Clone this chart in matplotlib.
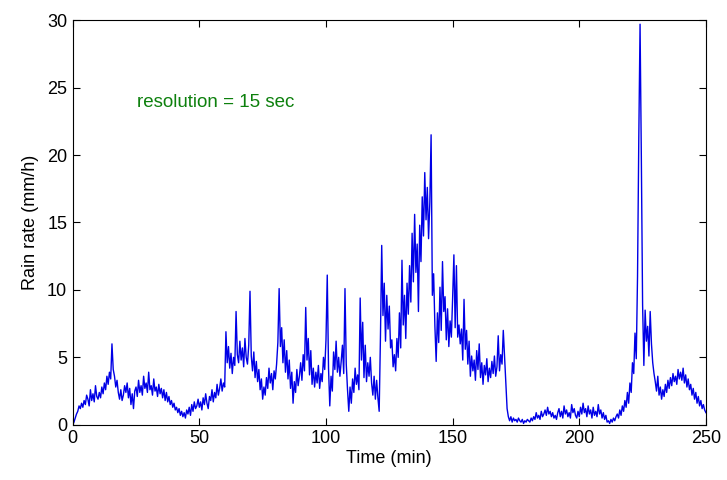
import numpy as np
import matplotlib
matplotlib.use("Agg")
import matplotlib.pyplot as plt

# rain rate, one value every 0.5 min (0 .. 250 min)
rain_rate = [
    0.0, 0.2, 0.5, 0.8, 1.0, 1.4, 1.2, 1.6, 1.3, 1.8, 1.5, 2.2, 1.9, 1.4, 2.6, 1.8, 2.3, 1.7, 2.9, 2.1,
    1.9, 2.4, 2.0, 2.8, 2.3, 3.1, 2.6, 3.6, 3.0, 3.9, 3.4, 6.0, 4.1, 3.6, 2.8, 3.3, 2.4, 1.9, 2.6, 1.8,
    2.2, 2.9, 2.4, 3.1, 2.0, 2.7, 1.5, 2.3, 1.2, 2.5, 2.8, 2.1, 3.3, 2.4, 2.9, 2.2, 3.6, 2.7, 3.1, 2.4,
    3.9, 2.6, 2.9, 2.2, 3.4, 2.5, 2.8, 2.1, 3.0, 2.3, 2.7, 2.0, 2.6, 1.8, 2.4, 1.7, 2.1, 1.5, 1.8, 1.3,
    1.6, 1.1, 1.3, 0.9, 1.2, 0.7, 1.0, 0.6, 0.9, 0.5, 1.1, 0.8, 1.3, 0.7, 1.5, 1.0, 1.7, 1.2, 1.4, 1.9,
    1.3, 1.7, 1.1, 2.0, 1.5, 2.3, 1.6, 1.2, 2.1, 1.8, 2.6, 1.7, 2.4, 2.0, 3.0, 2.2, 2.7, 3.4, 2.5, 3.1,
    2.8, 6.9, 4.6, 5.8, 4.2, 5.3, 3.8, 5.0, 4.4, 8.4, 5.2, 4.6, 6.2, 4.8, 5.7, 4.3, 6.4, 5.0, 4.5, 5.9,
    9.9, 5.1, 4.0, 5.4, 3.5, 4.7, 3.2, 4.1, 2.6, 3.4, 1.9, 2.8, 2.2, 3.5, 2.7, 4.2, 3.1, 3.8, 2.6, 4.0,
    3.4, 4.5, 6.1, 10.1, 5.8, 7.2, 4.6, 6.3, 3.9, 5.5, 3.4, 4.8, 2.7, 3.9, 1.6, 3.2, 2.4, 4.1, 2.9, 3.6,
    4.6, 3.3, 5.2, 4.0, 8.7, 4.8, 6.4, 3.7, 5.5, 3.0, 4.2, 2.8, 3.9, 3.1, 4.4, 2.7, 3.8, 3.2, 5.0, 4.1,
    6.3, 11.1, 4.2, 1.4, 3.6, 2.5, 5.4, 4.1, 6.2, 3.9, 5.0, 3.6, 4.7, 5.9, 3.8, 10.1, 4.5, 2.6, 1.0, 2.8,
    1.6, 3.4, 2.4, 4.2, 3.0, 3.7, 2.6, 9.4, 4.8, 7.6, 3.5, 5.9, 3.2, 4.6, 3.6, 5.0, 3.1, 2.2, 3.6, 1.9,
    3.3, 2.0, 1.0, 6.5, 13.3, 8.1, 10.5, 6.2, 9.6, 7.1, 8.8, 5.7, 6.3, 4.3, 5.2, 4.0, 6.4, 5.0, 8.3, 5.7,
    12.2, 7.4, 9.6, 6.4, 10.5, 8.2, 11.8, 9.1, 14.2, 10.6, 15.6, 11.3, 13.4, 8.4, 14.8, 12.1, 16.9, 14.0, 18.7, 15.2,
    17.6, 13.8, 16.5, 21.5, 9.6, 11.2, 7.3, 4.7, 8.3, 6.1, 10.2, 7.0, 12.1, 8.4, 9.5, 6.3, 8.6, 5.8, 7.7, 6.5,
    9.4, 12.6, 7.2, 11.8, 6.5, 7.4, 6.0, 7.1, 4.8, 9.3, 5.6, 7.0, 4.5, 6.2, 3.6, 5.1, 4.0, 4.8, 3.3, 5.5,
    4.1, 6.0, 3.5, 4.6, 3.0, 4.4, 3.7, 4.9, 3.2, 4.2, 3.5, 4.7, 3.8, 5.1, 3.6, 4.3, 6.6, 4.0, 5.2, 4.5,
    7.0, 5.1, 3.2, 1.2, 0.6, 0.3, 0.6, 0.2, 0.5, 0.3, 0.4, 0.2, 0.5, 0.3, 0.2, 0.4, 0.1, 0.3, 0.2, 0.4,
    0.3, 0.2, 0.5, 0.3, 0.6, 0.4, 0.9, 0.5, 0.7, 0.4, 1.0, 0.6, 0.8, 1.1, 0.7, 1.3, 0.8, 1.0, 0.6, 0.9,
    0.5, 0.7, 0.4, 0.9, 1.2, 0.6, 1.0, 0.5, 1.4, 0.8, 1.1, 0.6, 0.9, 0.5, 1.5, 0.9, 1.2, 0.7, 0.5, 1.0,
    0.6, 1.3, 0.8, 1.6, 0.9, 1.2, 0.6, 1.4, 0.8, 1.1, 0.5, 1.3, 0.7, 1.0, 0.6, 1.5, 0.8, 1.1, 0.5, 0.9,
    0.4, 0.7, 0.2, 0.3, 0.1, 0.4, 0.2, 0.5, 0.3, 0.6, 0.8, 0.5, 1.1, 0.7, 1.4, 1.0, 1.8, 1.3, 2.4, 1.6,
    3.1, 2.4, 4.6, 3.8, 6.8, 4.9, 11.0, 21.3, 29.7, 19.9, 8.9, 4.4, 8.5, 6.2, 7.3, 5.1, 8.4, 6.0, 4.6, 3.8,
    3.2, 2.5, 3.6, 2.2, 2.8, 1.9, 2.6, 2.1, 3.0, 2.4, 3.3, 2.7, 3.5, 2.9, 3.8, 3.2, 3.6, 3.0, 4.1, 3.4,
    3.9, 3.3, 4.2, 3.1, 3.7, 2.8, 3.4, 2.6, 3.0, 2.2, 2.7, 1.9, 2.4, 1.6, 2.1, 1.4, 1.8, 1.2, 1.5, 1.1,
    0.9,
]
time_min = np.arange(len(rain_rate)) * 0.5

x_ticks = [0, 50, 100, 150, 200, 250]
y_ticks = [0, 5, 10, 15, 20, 25, 30]

plt.rcParams['font.family'] = ['Liberation Sans', 'DejaVu Sans']

fig = plt.figure(figsize=(7.27, 4.8), dpi=100)
ax = fig.add_axes([0.100, 0.115, 0.871, 0.843])

ax.plot(time_min, rain_rate, color=(0, 0, 0.9), linewidth=1.0)

ax.set_xlim(0, 250)
ax.set_ylim(0, 30)
ax.set_xticks(x_ticks)
ax.set_yticks(y_ticks)
ax.tick_params(direction='in', top=True, right=True, length=5, width=0.8, labelsize=13, pad=4)
for s in ax.spines.values():
    s.set_linewidth(0.8)

ax.set_xlabel('Time (min)', fontsize=13, labelpad=2)
ax.set_ylabel('Rain rate (mm/h)', fontsize=13, labelpad=6)

ax.text(25.5, 23.9, 'resolution = 15 sec', color=(0.05, 0.5, 0.05), fontsize=13.5,
        va='center', ha='left')

fig.savefig('out.png', dpi=100)
